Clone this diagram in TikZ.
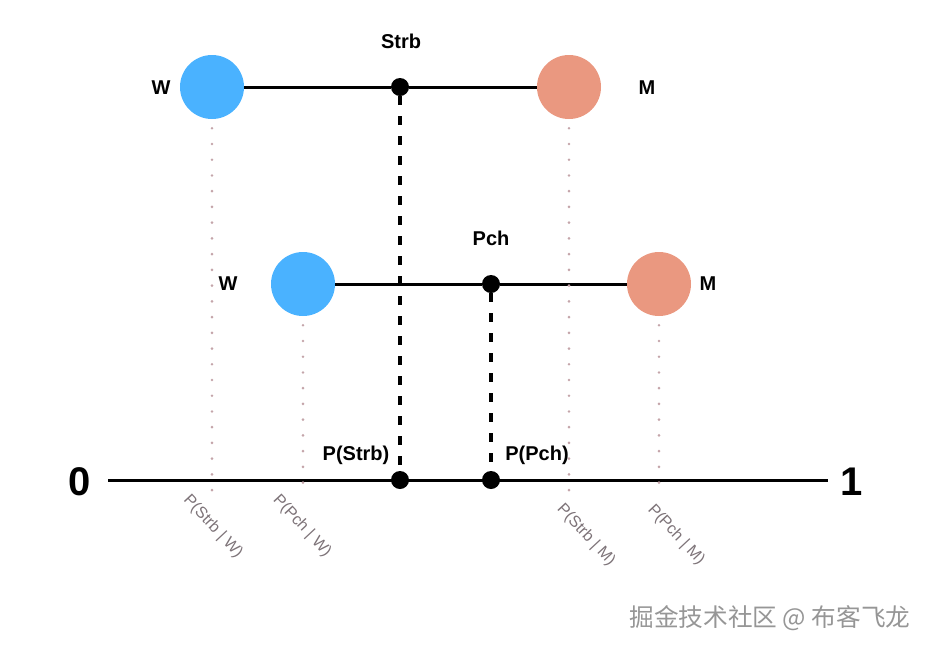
\documentclass[tikz,border=0pt]{standalone}
\usepackage{fontspec}
\setmainfont{Liberation Sans}
\newfontfamily\cjkfont{Noto Sans CJK SC}
\usetikzlibrary{calc}
\definecolor{wblue}{RGB}{74,178,255}
\definecolor{msalmon}{RGB}{234,152,128}
\definecolor{dotgray}{RGB}{196,165,170}
\definecolor{labgray}{RGB}{125,115,120}
\definecolor{markgray}{RGB}{150,150,150}

\begin{document}
\begin{tikzpicture}[x=0.75pt,y=-0.75pt,
  wball/.style={circle,fill=wblue,minimum size=48pt,inner sep=0pt},
  mball/.style={circle,fill=msalmon,minimum size=48pt,inner sep=0pt},
  bigdot/.style={circle,fill=black,minimum size=13.5pt,inner sep=0pt},
  lab/.style={font=\fontsize{15}{18}\selectfont\bfseries},
  numlab/.style={font=\fontsize{30}{34}\selectfont\bfseries},
  problab/.style={font=\fontsize{12}{14}\selectfont,text=labgray,rotate=-47},
  probline/.style={dotgray,line width=2.2pt,line cap=round,dash pattern=on 0pt off 11.8pt},
  dashline/.style={black,line width=3.4pt,dash pattern=on 6.75pt off 8.25pt}]
\useasboundingbox (0,0) rectangle (932,651);

% balls and points
\node[wball] (wtop) at (212,87) {};
\node[mball] (mtop) at (569,87) {};
\node[bigdot] (strb) at (400,87) {};
\node[wball] (wmid) at (303,284) {};
\node[mball] (mmid) at (659,284) {};
\node[bigdot] (pch) at (491,284) {};

% axis
\node[numlab] (zero) at (80,482) {0};
\node[numlab] (one) at (852,482) {1};
\coordinate (axl) at (108,480);
\coordinate (axr) at (828,480);
\draw[black,line width=2.25pt] (axl) -- (axr);
\node[bigdot] (pstrb) at (400,480) {};
\node[bigdot] (ppch) at (491,480) {};

\draw[black,line width=2.25pt] (wtop) -- (strb) -- (mtop);
\draw[black,line width=2.25pt] (wmid) -- (pch) -- (mmid);
\draw[dashline] (strb) -- (pstrb);
\draw[dashline] (pch) -- (ppch);

\foreach \b in {wtop,mtop,wmid,mmid} {
 \coordinate (\b-end) at (\b.south |- 0,493);
 \draw[probline] (\b.south) ++(0,9) -- (\b-end);
}

% labels
\node[lab] (lstrb) at (401,41) {Strb};
\node[lab] (lpch) at (491,238) {Pch};
\node[lab] (lwtop) at (161,88) {W};
\node[lab] (lmtop) at (647,88) {M};
\node[lab] (lwmid) at (228,284) {W};
\node[lab] (lmmid) at (708,284) {M};
\node[lab] (lpstrb) at (356,455) {P(Strb)};
\node[lab] (lppch) at (537,455) {P(Pch)};

\foreach \n/\x/\y/\t in {sw/213/527/{P(Strb | W)}, pw/302/526/{P(Pch | W)},
  sm/586/535/{P(Strb | M)}, pm/676/535/{P(Pch | M)}}
 \node[problab] (q\n) at (\x,\y) {\t};

\node[font=\cjkfont\fontsize{18.5}{22}\selectfont,text=markgray] (mark) at (770,618) {掘金技术社区 @ 布客飞龙};
\end{tikzpicture}
\end{document}
